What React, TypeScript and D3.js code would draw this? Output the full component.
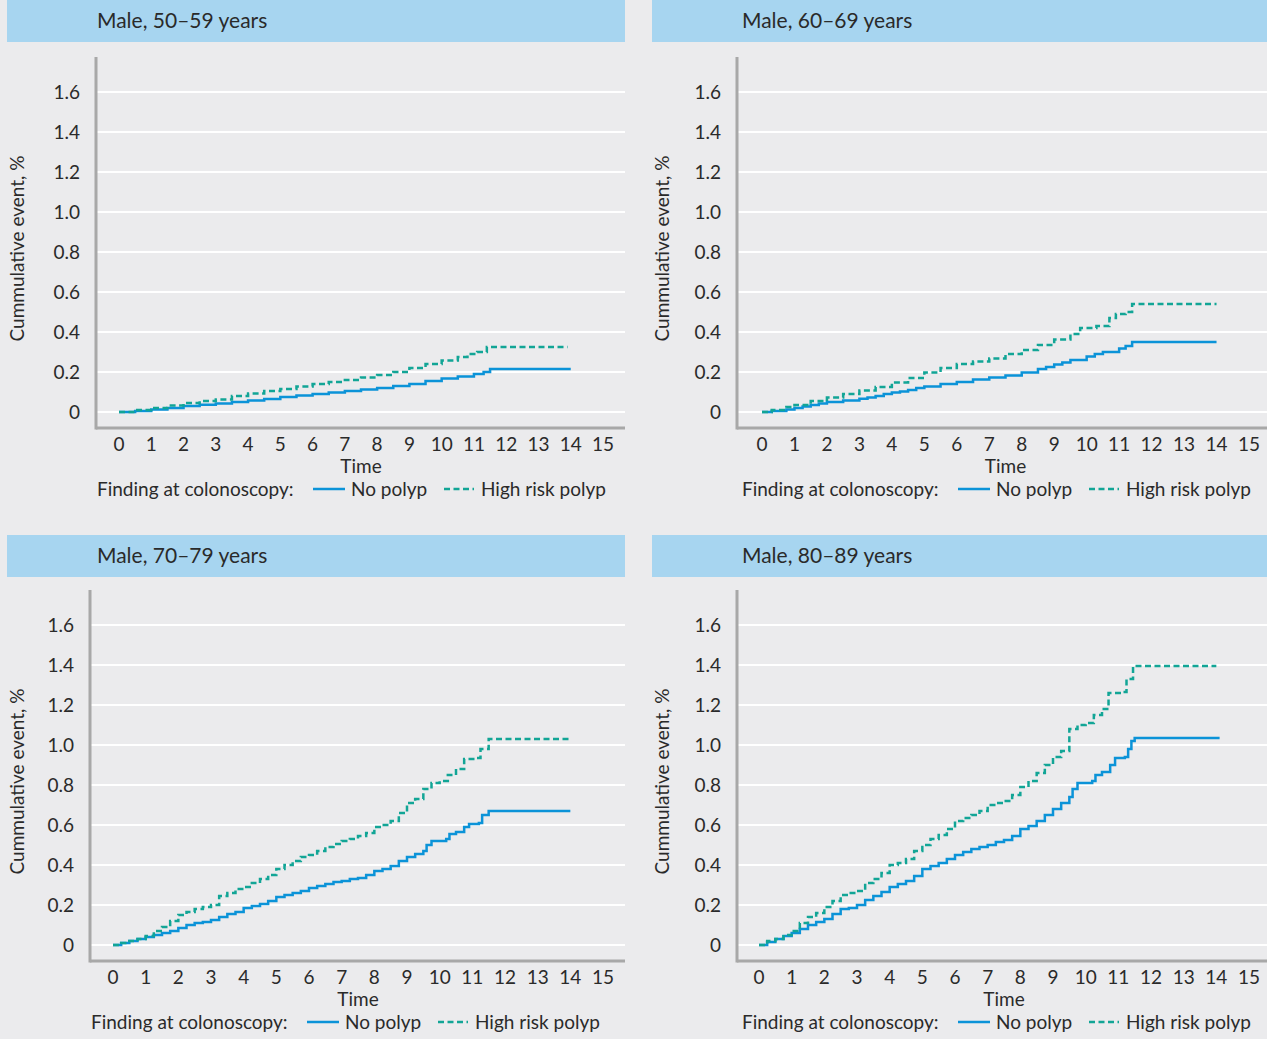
import React, { useEffect, useRef } from 'react';
import * as d3 from 'd3';

const width = 1267;
const height = 1039;

const titles = ['Male, 50–59 years', 'Male, 60–69 years', 'Male, 70–79 years', 'Male, 80–89 years'];
const yTicks = [0, 0.2, 0.4, 0.6, 0.8, 1.0, 1.2, 1.4, 1.6];
const xTicks = d3.range(0, 16);
const seriesNames = ['No polyp', 'High risk polyp'];

// [time, cumulative event %]
const noPolyp5059 = [[0, 0], [0.5, 0.005], [1, 0.012], [1.5, 0.02], [2, 0.03], [2.5, 0.036], [3, 0.042], [3.5, 0.05], [4, 0.058], [4.5, 0.065], [5, 0.075], [5.5, 0.082], [6, 0.09], [6.5, 0.097], [7, 0.105], [7.5, 0.112], [8, 0.12], [8.5, 0.13], [9, 0.14], [9.5, 0.155], [10, 0.168], [10.5, 0.178], [11, 0.19], [11.3, 0.2], [11.5, 0.215], [14, 0.215]];
const highRisk5059 = [[0, 0], [0.5, 0.01], [1, 0.02], [1.5, 0.032], [2, 0.045], [2.5, 0.055], [3, 0.063], [3.5, 0.08], [4, 0.092], [4.5, 0.105], [5, 0.115], [5.5, 0.128], [6, 0.14], [6.5, 0.15], [7, 0.16], [7.5, 0.172], [8, 0.185], [8.5, 0.2], [9, 0.22], [9.5, 0.24], [10, 0.258], [10.5, 0.275], [10.8, 0.29], [11.1, 0.3], [11.4, 0.325], [13.9, 0.325]];

const noPolyp6069 = [[0, 0], [0.3, 0.005], [0.75, 0.012], [1, 0.02], [1.25, 0.028], [1.5, 0.035], [1.75, 0.042], [2, 0.05], [2.5, 0.058], [3, 0.066], [3.25, 0.072], [3.5, 0.08], [3.75, 0.09], [4, 0.097], [4.25, 0.103], [4.5, 0.11], [4.75, 0.12], [5, 0.127], [5.5, 0.14], [6, 0.15], [6.5, 0.162], [7, 0.172], [7.5, 0.182], [8, 0.198], [8.5, 0.215], [8.75, 0.225], [9, 0.238], [9.25, 0.248], [9.5, 0.26], [10, 0.278], [10.25, 0.29], [10.5, 0.3], [11, 0.318], [11.2, 0.33], [11.4, 0.35], [14, 0.35]];
const highRisk6069 = [[0, 0], [0.3, 0.01], [0.75, 0.025], [1, 0.035], [1.5, 0.055], [2, 0.072], [2.5, 0.09], [3, 0.108], [3.5, 0.125], [4, 0.148], [4.5, 0.17], [5, 0.198], [5.5, 0.22], [6, 0.24], [6.5, 0.253], [7, 0.268], [7.5, 0.29], [8, 0.31], [8.5, 0.335], [9, 0.362], [9.5, 0.39], [9.8, 0.42], [10.3, 0.43], [10.7, 0.47], [10.9, 0.49], [11.2, 0.5], [11.4, 0.54], [14, 0.54]];

const noPolyp7079 = [[0, 0], [0.25, 0.01], [0.5, 0.02], [0.75, 0.03], [1, 0.04], [1.25, 0.05], [1.5, 0.06], [1.75, 0.07], [2, 0.085], [2.25, 0.1], [2.5, 0.11], [2.75, 0.115], [3, 0.125], [3.25, 0.14], [3.5, 0.155], [3.75, 0.165], [4, 0.185], [4.25, 0.195], [4.5, 0.205], [4.75, 0.22], [5, 0.24], [5.25, 0.25], [5.5, 0.26], [5.75, 0.27], [6, 0.285], [6.25, 0.295], [6.5, 0.305], [6.75, 0.315], [7, 0.32], [7.25, 0.33], [7.5, 0.335], [7.75, 0.35], [8, 0.37], [8.25, 0.38], [8.5, 0.395], [8.75, 0.42], [9, 0.44], [9.25, 0.455], [9.5, 0.47], [9.6, 0.5], [9.75, 0.52], [10.2, 0.53], [10.3, 0.555], [10.5, 0.565], [10.75, 0.59], [10.9, 0.605], [11.2, 0.61], [11.3, 0.65], [11.5, 0.67], [14, 0.67]];
const highRisk7079 = [[0, 0], [0.25, 0.01], [0.5, 0.02], [0.75, 0.03], [1, 0.045], [1.25, 0.07], [1.5, 0.09], [1.75, 0.12], [2, 0.15], [2.25, 0.165], [2.5, 0.18], [2.75, 0.19], [3, 0.2], [3.25, 0.245], [3.5, 0.26], [3.75, 0.28], [4, 0.29], [4.25, 0.31], [4.5, 0.33], [4.75, 0.35], [5, 0.38], [5.25, 0.4], [5.5, 0.42], [5.75, 0.44], [6, 0.45], [6.25, 0.47], [6.5, 0.49], [6.75, 0.505], [7, 0.52], [7.25, 0.53], [7.5, 0.545], [7.75, 0.56], [8, 0.59], [8.25, 0.6], [8.5, 0.62], [8.75, 0.66], [9, 0.71], [9.25, 0.73], [9.5, 0.78], [9.75, 0.81], [10, 0.82], [10.25, 0.85], [10.5, 0.88], [10.75, 0.93], [11.1, 0.935], [11.25, 0.98], [11.5, 1.03], [14, 1.03]];

const noPolyp8089 = [[0, 0], [0.25, 0.015], [0.5, 0.03], [0.75, 0.045], [1, 0.06], [1.25, 0.08], [1.5, 0.1], [1.75, 0.115], [2, 0.13], [2.25, 0.155], [2.5, 0.18], [2.75, 0.185], [3, 0.2], [3.25, 0.225], [3.5, 0.245], [3.75, 0.265], [4, 0.29], [4.25, 0.305], [4.5, 0.32], [4.75, 0.345], [5, 0.38], [5.25, 0.395], [5.5, 0.41], [5.75, 0.43], [6, 0.45], [6.25, 0.465], [6.5, 0.48], [6.75, 0.49], [7, 0.5], [7.25, 0.515], [7.5, 0.525], [7.75, 0.545], [8, 0.58], [8.25, 0.595], [8.5, 0.62], [8.75, 0.65], [9, 0.68], [9.25, 0.71], [9.5, 0.74], [9.6, 0.78], [9.75, 0.81], [10.2, 0.82], [10.3, 0.85], [10.5, 0.865], [10.75, 0.9], [10.9, 0.935], [11.2, 0.94], [11.3, 0.98], [11.4, 1.02], [11.5, 1.035], [14.1, 1.035]];
const highRisk8089 = [[0, 0], [0.25, 0.02], [0.5, 0.03], [0.75, 0.05], [1, 0.07], [1.25, 0.11], [1.5, 0.14], [1.75, 0.16], [2, 0.19], [2.25, 0.22], [2.5, 0.25], [2.75, 0.26], [3, 0.27], [3.25, 0.31], [3.5, 0.33], [3.75, 0.36], [4, 0.4], [4.25, 0.41], [4.5, 0.43], [4.75, 0.47], [5, 0.5], [5.25, 0.53], [5.5, 0.55], [5.75, 0.58], [6, 0.62], [6.25, 0.635], [6.5, 0.65], [6.75, 0.67], [7, 0.7], [7.25, 0.71], [7.5, 0.72], [7.75, 0.75], [8, 0.79], [8.25, 0.82], [8.5, 0.86], [8.75, 0.9], [9, 0.94], [9.25, 0.97], [9.5, 1.08], [9.75, 1.1], [10, 1.11], [10.25, 1.15], [10.5, 1.18], [10.7, 1.26], [11.1, 1.265], [11.25, 1.33], [11.45, 1.395], [14, 1.395]];

const noPolyp = [noPolyp5059, noPolyp6069, noPolyp7079, noPolyp8089];
const highRisk = [highRisk5059, highRisk6069, highRisk7079, highRisk8089];

const bg = '#ebebed';
const headerFill = '#a7d5f0';
const textColor = '#2a2a2a';
const axisColor = '#a8a8a8';
const blue = '#0b93d8';
const teal = '#12a596';

// panel layout
const panels = [
    { left: 7, right: 625, top: 0, axisX: 96, x0: 119, x15: 603, zeroY: 412, titleX: 97, legendX: 97 },
    { left: 652, right: 1267, top: 0, axisX: 737, x0: 762, x15: 1249, zeroY: 412, titleX: 742, legendX: 742 },
    { left: 7, right: 625, top: 535, axisX: 90, x0: 113, x15: 603, zeroY: 945, titleX: 97, legendX: 91 },
    { left: 652, right: 1267, top: 535, axisX: 737, x0: 759, x15: 1249, zeroY: 945, titleX: 742, legendX: 742 }
];

export default function App() {
    const svgRef = useRef<SVGSVGElement>(null);

    useEffect(() => {
        const svg = d3.select(svgRef.current);
        svg.selectAll('*').remove();

        svg.append('rect')
            .attr('width', width)
            .attr('height', height)
            .attr('fill', bg);

        panels.forEach((p, i) => {
            const g = svg.append('g').attr('font-family', 'Lato, "Noto Sans", sans-serif').attr('fill', textColor);

            const x = d3.scaleLinear().domain([0, 15]).range([p.x0, p.x15]);
            const y = d3.scaleLinear().domain([0, 1.6]).range([p.zeroY, p.zeroY - 320]);
            const axisTop = p.zeroY - 355;
            const axisBottom = p.zeroY + 16;

            // header
            g.append('rect')
                .attr('x', p.left)
                .attr('y', p.top)
                .attr('width', p.right - p.left)
                .attr('height', 42)
                .attr('fill', headerFill);
            g.append('text')
                .attr('x', p.titleX)
                .attr('y', p.top + 21)
                .attr('dy', '0.35em')
                .attr('font-size', 21)
                .text(titles[i]);

            // grid
            g.append('g')
                .selectAll('line')
                .data(yTicks)
                .join('line')
                .attr('x1', p.axisX)
                .attr('x2', p.right)
                .attr('y1', d => y(d))
                .attr('y2', d => y(d))
                .attr('stroke', '#fff')
                .attr('stroke-width', 2);

            // axes
            g.append('line')
                .attr('x1', p.axisX).attr('x2', p.axisX)
                .attr('y1', axisTop).attr('y2', axisBottom + 1.5)
                .attr('stroke', axisColor).attr('stroke-width', 3);
            g.append('line')
                .attr('x1', p.axisX).attr('x2', p.right)
                .attr('y1', axisBottom).attr('y2', axisBottom)
                .attr('stroke', axisColor).attr('stroke-width', 3);

            g.append('g')
                .selectAll('text')
                .data(yTicks)
                .join('text')
                .attr('x', p.axisX - 16)
                .attr('y', d => y(d))
                .attr('dy', '0.35em')
                .attr('text-anchor', 'end')
                .attr('font-size', 19)
                .text(d => d === 0 ? '0' : d.toFixed(1));

            g.append('g')
                .selectAll('text')
                .data(xTicks)
                .join('text')
                .attr('x', d => x(d))
                .attr('y', axisBottom + 16)
                .attr('dy', '0.35em')
                .attr('text-anchor', 'middle')
                .attr('font-size', 19)
                .text(d => d);

            g.append('text')
                .attr('x', (p.x0 + p.x15) / 2)
                .attr('y', axisBottom + 38)
                .attr('dy', '0.35em')
                .attr('text-anchor', 'middle')
                .attr('font-size', 19)
                .text('Time');

            g.append('text')
                .attr('transform', `translate(${p.left + 10},${(axisTop + axisBottom) / 2 + 6}) rotate(-90)`)
                .attr('dy', '0.35em')
                .attr('text-anchor', 'middle')
                .attr('font-size', 19)
                .text('Cummulative event, %');

            // curves
            const line = d3.line<number[]>()
                .x(d => x(d[0]))
                .y(d => y(d[1]))
                .curve(d3.curveStepAfter);

            g.append('path')
                .attr('d', line(noPolyp[i]))
                .attr('fill', 'none')
                .attr('stroke', blue)
                .attr('stroke-width', 2.5);
            g.append('path')
                .attr('d', line(highRisk[i]))
                .attr('fill', 'none')
                .attr('stroke', teal)
                .attr('stroke-width', 2.5)
                .attr('stroke-dasharray', '6,3.5');

            // legend
            const ly = axisBottom + 61;
            const lg = g.append('g').attr('font-size', 19);
            lg.append('text').attr('x', p.legendX).attr('y', ly).attr('dy', '0.35em').text('Finding at colonoscopy:');
            lg.append('line')
                .attr('x1', p.legendX + 216).attr('x2', p.legendX + 248)
                .attr('y1', ly).attr('y2', ly)
                .attr('stroke', blue).attr('stroke-width', 2.5);
            lg.append('text').attr('x', p.legendX + 254).attr('y', ly).attr('dy', '0.35em').text(seriesNames[0]);
            lg.append('line')
                .attr('x1', p.legendX + 347).attr('x2', p.legendX + 377)
                .attr('y1', ly).attr('y2', ly)
                .attr('stroke', teal).attr('stroke-width', 2.5)
                .attr('stroke-dasharray', '6,3.5');
            lg.append('text').attr('x', p.legendX + 384).attr('y', ly).attr('dy', '0.35em').text(seriesNames[1]);
        });
    }, []);

    return (
        <svg ref={svgRef} width={width} height={height}
            style={{ position: 'absolute', left: 0, top: 0, display: 'block' }}></svg>
    );
}
